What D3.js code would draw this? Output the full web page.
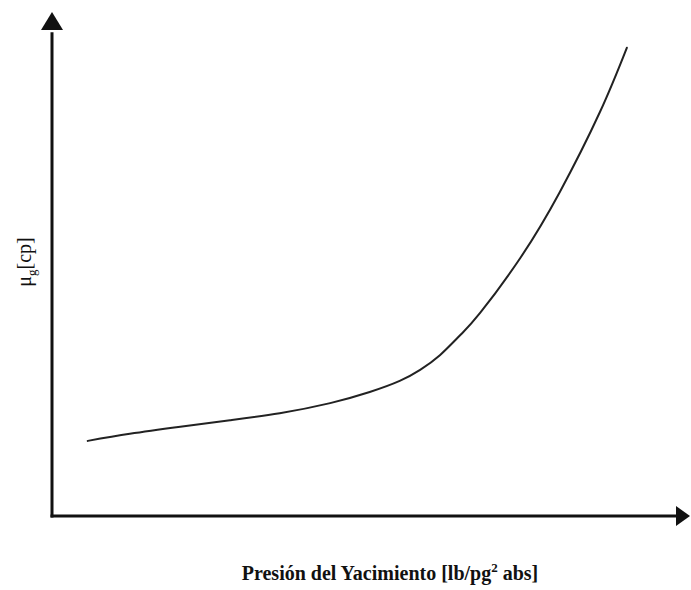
<!DOCTYPE html>
<html>
<head>
<meta charset="utf-8">
<script src="https://cdn.jsdelivr.net/npm/d3@7"></script>
<style>
  html, body { margin: 0; padding: 0; background: #fff; }
  svg { display: block; }
</style>
</head>
<body>
<svg id="chart" width="691" height="590"></svg>
<script>
// Pressure (relative units along the x axis)
const pressure = [5.6, 12.2, 20.1, 27.9, 35.7, 43.6, 49.8, 54.5, 57.7, 60.8, 64.0, 67.1, 73.4, 79.6, 85.9, 90.1];
// Gas viscosity (relative units along the y axis)
const viscosity = [14.9, 16.3, 17.7, 19.0, 20.4, 22.4, 24.6, 26.8, 29.0, 31.9, 35.9, 40.3, 51.2, 64.3, 80.2, 92.9];
const xLabelParts = ["Presión del Yacimiento [lb/pg", "2", " abs]"];
const yLabelParts = ["μ", "g", "[cp]"];

const svg = d3.select("#chart");
const x = d3.scaleLinear().domain([0, 100]).range([52, 690]);
const y = d3.scaleLinear().domain([0, 100]).range([516, 12]);

const axisColor = "#111";

// Y axis line
svg.append("line")
  .attr("x1", x(0)).attr("x2", x(0))
  .attr("y1", y(0) + 1.5).attr("y2", y(96))
  .attr("stroke", axisColor).attr("stroke-width", 3);
// X axis line
svg.append("line")
  .attr("x1", x(0) - 1.5).attr("x2", x(98))
  .attr("y1", y(0)).attr("y2", y(0))
  .attr("stroke", axisColor).attr("stroke-width", 3);

// Arrow heads
const ax0 = x(0), ay0 = y(0);
svg.append("path")
  .attr("d", `M${ax0},${y(100)} L${ax0 - 11},${y(100) + 18} L${ax0 + 11},${y(100) + 18} Z`)
  .attr("fill", axisColor);
svg.append("path")
  .attr("d", `M${x(100)},${ay0} L${x(100) - 14},${ay0 - 10} L${x(100) - 14},${ay0 + 10} Z`)
  .attr("fill", axisColor);

// Curve
const pts = pressure.map((p, i) => [p, viscosity[i]]);
const line = d3.line().x(d => x(d[0])).y(d => y(d[1])).curve(d3.curveNatural);
svg.append("path")
  .datum(pts)
  .attr("d", line)
  .attr("fill", "none")
  .attr("stroke", "#222")
  .attr("stroke-width", 2)
  .attr("stroke-linecap", "round");

// X label
const xl = svg.append("text")
  .attr("x", 390).attr("y", 580)
  .attr("text-anchor", "middle")
  .attr("font-family", "'Liberation Serif', 'Times New Roman', serif")
  .attr("font-weight", "bold")
  .attr("font-size", 20)
  .attr("fill", "#111");
xl.append("tspan").text(xLabelParts[0]);
xl.append("tspan").text(xLabelParts[1]).attr("font-size", 13).attr("dy", -8);
xl.append("tspan").text(xLabelParts[2]).attr("dy", 8);

// Y label
const yl = svg.append("text")
  .attr("transform", "translate(31,262) rotate(-90)")
  .attr("text-anchor", "middle")
  .attr("font-family", "'Liberation Serif', 'Times New Roman', serif")
  .attr("font-size", 20)
  .attr("fill", "#111");
yl.append("tspan").text(yLabelParts[0]);
yl.append("tspan").text(yLabelParts[1]).attr("font-size", 13).attr("dy", 5);
yl.append("tspan").text(yLabelParts[2]).attr("dy", -5);
</script>
</body>
</html>
